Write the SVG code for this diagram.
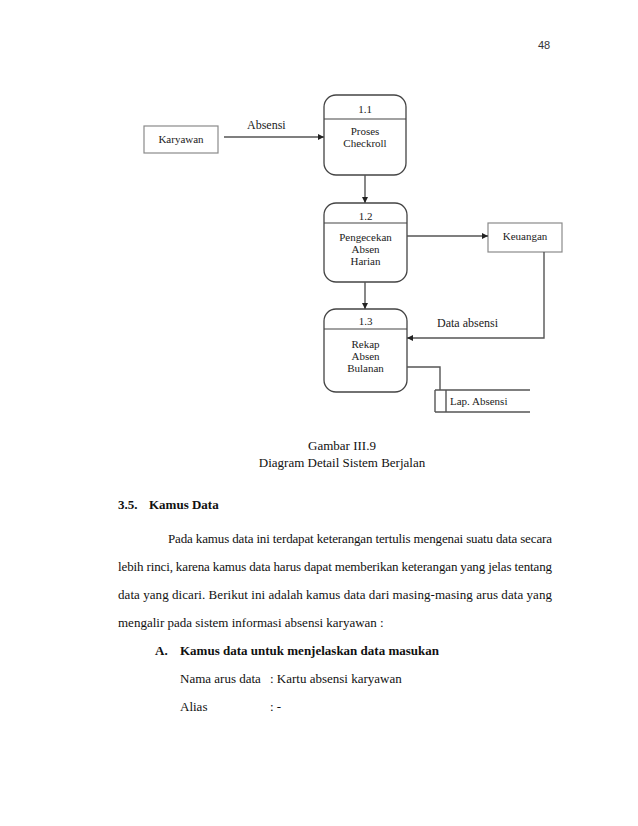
<svg xmlns="http://www.w3.org/2000/svg" width="638" height="826" viewBox="0 0 638 826">
<style>
.ent{fill:#fff;stroke:#8a8a8a;stroke-width:1.2}
.proc{fill:#fff;stroke:#444;stroke-width:1.3}
.div{stroke:#444;stroke-width:1.2}
.dl{font-family:"Liberation Serif",serif;font-size:11px;fill:#222;text-anchor:middle}
.lbl{font-family:"Liberation Serif",serif;font-size:12px;fill:#222}
.con{fill:none;stroke:#555;stroke-width:1.4}
.body{font-family:"Liberation Serif",serif;font-size:13px;fill:#111}
.b{font-weight:bold}
</style>
<defs>
<marker id="ah" viewBox="0 0 10 10" refX="10" refY="5" markerWidth="6" markerHeight="6" orient="auto" markerUnits="userSpaceOnUse">
<path d="M0,0 L10,5 L0,10 z" fill="#222"/>
</marker>
</defs>
<rect width="638" height="826" fill="#fff"/>
<text x="544" y="49" font-family="Liberation Sans,sans-serif" font-size="11" fill="#333" text-anchor="middle">48</text>

<g id="karyawan">
<rect class="ent" x="144" y="126" width="74" height="27"/>
<text class="dl" x="181" y="143" font-size="12.5">Karyawan</text>
</g>
<g id="p11">
<rect class="proc" x="324" y="95" width="82" height="80" rx="12"/>
<line class="div" x1="324" y1="119" x2="406" y2="119"/>
<text class="dl" x="365" y="113" font-size="11.5">1.1</text>
<text class="dl" x="365" y="135">Proses</text>
<text class="dl" x="365" y="147">Checkroll</text>
</g>
<g id="p12">
<rect class="proc" x="324" y="203" width="83" height="79" rx="12"/>
<line class="div" x1="324" y1="223" x2="407" y2="223"/>
<text class="dl" x="365.5" y="220" font-size="11.5">1.2</text>
<text class="dl" x="365.5" y="241">Pengecekan</text>
<text class="dl" x="365.5" y="253">Absen</text>
<text class="dl" x="365.5" y="265">Harian</text>
</g>
<g id="keuangan">
<rect class="ent" x="488" y="223" width="74" height="29"/>
<text class="dl" x="525" y="240" font-size="12">Keuangan</text>
</g>
<g id="p13">
<rect class="proc" x="324" y="309" width="83" height="83" rx="12"/>
<line class="div" x1="324" y1="329" x2="407" y2="329"/>
<text class="dl" x="365.5" y="325" font-size="11.5">1.3</text>
<text class="dl" x="365.5" y="348">Rekap</text>
<text class="dl" x="365.5" y="360">Absen</text>
<text class="dl" x="365.5" y="372">Bulanan</text>
</g>
<g id="lap">
<line class="con" x1="435" y1="390" x2="530" y2="390"/>
<line class="con" x1="435" y1="412" x2="530" y2="412"/>
<line class="con" x1="435" y1="390" x2="435" y2="412"/>
<line class="con" x1="446" y1="390" x2="446" y2="412"/>
<text class="dl" x="450" y="405" style="text-anchor:start">Lap.  Absensi</text>
</g>

<g id="connectors">
<line class="con" x1="224" y1="137" x2="324" y2="137" marker-end="url(#ah)"/>
<text class="lbl" x="247" y="129">Absensi</text>
<line class="con" x1="365" y1="175" x2="365" y2="203" marker-end="url(#ah)"/>
<line class="con" x1="407" y1="236" x2="488" y2="236" marker-end="url(#ah)"/>
<line class="con" x1="365" y1="282" x2="365" y2="309" marker-end="url(#ah)"/>
<path class="con" d="M544,252 V338 H407" marker-end="url(#ah)"/>
<text class="lbl" x="437" y="327">Data absensi</text>
<path class="con" d="M407,367 H440 V390"/>
</g>

<text class="body" x="342" y="450" text-anchor="middle">Gambar III.9</text>
<text class="body" x="342" y="467" text-anchor="middle">Diagram Detail Sistem Berjalan</text>

<text class="body b" x="118" y="509">3.5.</text>
<text class="body b" x="149" y="509">Kamus Data</text>

<text class="body" x="168" y="543" textLength="384" lengthAdjust="spacing">Pada kamus data ini terdapat keterangan tertulis mengenai suatu data secara</text>
<text class="body" x="118" y="571" textLength="434" lengthAdjust="spacing">lebih rinci, karena kamus data harus dapat memberikan keterangan yang jelas tentang</text>
<text class="body" x="118" y="599" textLength="434" lengthAdjust="spacing">data yang dicari. Berikut ini adalah kamus data dari masing-masing arus data yang</text>
<text class="body" x="118" y="627">mengalir pada sistem informasi absensi karyawan :</text>

<text class="body b" x="155" y="655">A.</text>
<text class="body b" x="180" y="655">Kamus data untuk menjelaskan data masukan</text>
<text class="body" x="180" y="683">Nama arus data</text>
<text class="body" x="270" y="683">: Kartu absensi karyawan</text>
<text class="body" x="180" y="711">Alias</text>
<text class="body" x="270" y="711">: -</text>
</svg>
